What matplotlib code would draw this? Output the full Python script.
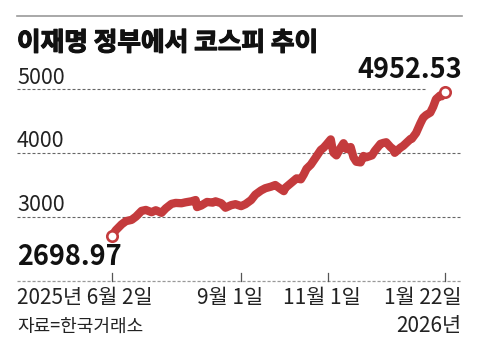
import matplotlib
matplotlib.use("Agg")
import matplotlib.pyplot as plt
import matplotlib.dates as mdates
import matplotlib.patheffects as pe
import pandas as pd

plt.rcParams['font.family'] = ['Liberation Sans Narrow', 'Noto Sans CJK KR', 'DejaVu Sans']

# 코스피
dates = [
    "2025-06-02", "2025-06-05", "2025-06-09", "2025-06-12", "2025-06-16", "2025-06-19",
    "2025-06-23", "2025-06-26", "2025-06-30", "2025-07-03", "2025-07-07", "2025-07-10",
    "2025-07-14", "2025-07-17", "2025-07-21", "2025-07-24", "2025-07-28", "2025-07-31",
    "2025-08-01", "2025-08-04", "2025-08-08", "2025-08-12", "2025-08-14", "2025-08-18",
    "2025-08-21", "2025-08-25", "2025-08-28", "2025-09-01", "2025-09-04", "2025-09-08",
    "2025-09-11", "2025-09-15", "2025-09-18", "2025-09-22", "2025-09-25", "2025-09-29",
    "2025-10-01", "2025-10-02", "2025-10-10", "2025-10-13", "2025-10-15", "2025-10-17",
    "2025-10-20", "2025-10-22", "2025-10-24", "2025-10-27", "2025-10-29", "2025-10-31",
    "2025-11-03", "2025-11-04", "2025-11-05", "2025-11-07", "2025-11-10", "2025-11-12",
    "2025-11-14", "2025-11-17", "2025-11-19", "2025-11-21", "2025-11-24", "2025-11-26",
    "2025-11-28", "2025-12-02", "2025-12-04", "2025-12-08", "2025-12-10", "2025-12-12",
    "2025-12-15", "2025-12-17", "2025-12-18", "2025-12-22", "2025-12-24", "2025-12-29",
    "2025-12-30", "2026-01-02", "2026-01-05", "2026-01-07", "2026-01-09", "2026-01-12",
    "2026-01-14", "2026-01-16", "2026-01-19", "2026-01-20", "2026-01-21", "2026-01-22",
]
kospi = [
    2698.97, 2790, 2880, 2930, 2950, 3000,
    3090, 3105, 3070, 3100, 3060, 3130,
    3200, 3215, 3210, 3225, 3240, 3260,
    3150, 3175, 3230, 3220, 3240, 3210,
    3140, 3180, 3195, 3165, 3195, 3260,
    3345, 3410, 3445, 3470, 3495, 3430,
    3400, 3450, 3600, 3585, 3660, 3750,
    3815, 3880, 3945, 4045, 4080, 4130,
    4210, 4090, 4000, 3960, 4080, 4150,
    4060, 4090, 3930, 3860, 3850, 3950,
    3930, 3960, 4030, 4140, 4155, 4165,
    4090, 4055, 4000, 4080, 4110, 4215,
    4220, 4310, 4460, 4550, 4590, 4630,
    4720, 4840, 4900, 4885, 4910, 4952.53,
]
grid_vals = [3000, 4000, 5000]
tick_dates = ["2025-06-02", "2025-09-01", "2025-11-01", "2026-01-22"]
tick_labels = ["2025년 6월 2일", "9월 1일", "11월 1일", "1월 22일"]

x = mdates.date2num(pd.to_datetime(dates))
t0 = mdates.date2num(pd.Timestamp("2025-06-02"))

W, H = 480, 354
fig = plt.figure(figsize=(W / 100, H / 100), dpi=100)

def fx(px):
    return px / W

def fy(py):
    return 1 - py / H

ax = fig.add_axes([fx(17), fy(280.5), fx(445), fy(76.2) - fy(280.5)])
ax.set_xlim(t0 - 66.6, t0 + 246.3)
ax.set_ylim(2000, 5200)
ax.axis('off')

red = '#c43b3d'

# 격자
for g in grid_vals:
    xmax = 0.917 if g == 5000 else 1.0
    ax.axhline(g, xmin=0, xmax=xmax, color='#666666', lw=0.8,
               linestyle=(0, (2.7, 1.8)), zorder=1)
ax.axhline(2000, color='#999999', lw=0.9, linestyle=(0, (2.5, 1.5)), zorder=1, clip_on=False)

# x축 눈금
for d in tick_dates:
    ax.axvline(mdates.date2num(pd.Timestamp(d)), ymin=0, ymax=7.5 / 204.3,
               color='#555555', lw=0.9, clip_on=False)

ax.plot(x, kospi, color=red, lw=6, solid_capstyle='round', solid_joinstyle='round', zorder=3)
ax.plot([x[0], x[-1]], [kospi[0], kospi[-1]], linestyle='None', marker='o', ms=7.5,
        mfc='white', mec=red, mew=1.9, zorder=4, clip_on=False)

# 제목, 규칙선
fig.add_artist(plt.Line2D([fx(17), fx(462)], [fy(16), fy(16)], color='#9a9a9a', lw=1.2))
fig.text(fx(17), fy(43), "이재명 정부에서 코스피 추이", fontsize=18.5, fontweight='bold',
         family=['Noto Sans CJK KR'], color='#111111', va='center', ha='left',
         path_effects=[pe.withStroke(linewidth=0.9, foreground='#111111')])

# y 라벨
for g, py in zip(grid_vals, [205, 141, 78]):
    fig.text(fx(17), fy(py), str(g), fontsize=15.5, color='#222222', va='center', ha='left')

fig.text(fx(462), fy(70), "4952.53", fontsize=19.5, fontweight='bold', color='#111111',
         va='center', ha='right')
fig.text(fx(17), fy(257), "2698.97", fontsize=19.5, fontweight='bold', color='#111111',
         va='center', ha='left')

# x 라벨
label_pos = [(17, 'left'), (230, 'center'), (322, 'center'), (461, 'right')]
for lab, (px, ha) in zip(tick_labels, label_pos):
    fig.text(fx(px), fy(298), lab, fontsize=15, color='#222222', va='center', ha=ha)

fig.text(fx(17), fy(327), "자료=한국거래소", fontsize=13, color='#222222', va='center', ha='left')
fig.text(fx(461), fy(326), "2026년", fontsize=15, color='#222222', va='center', ha='right')

fig.savefig("out.png", dpi=100, facecolor='white')
